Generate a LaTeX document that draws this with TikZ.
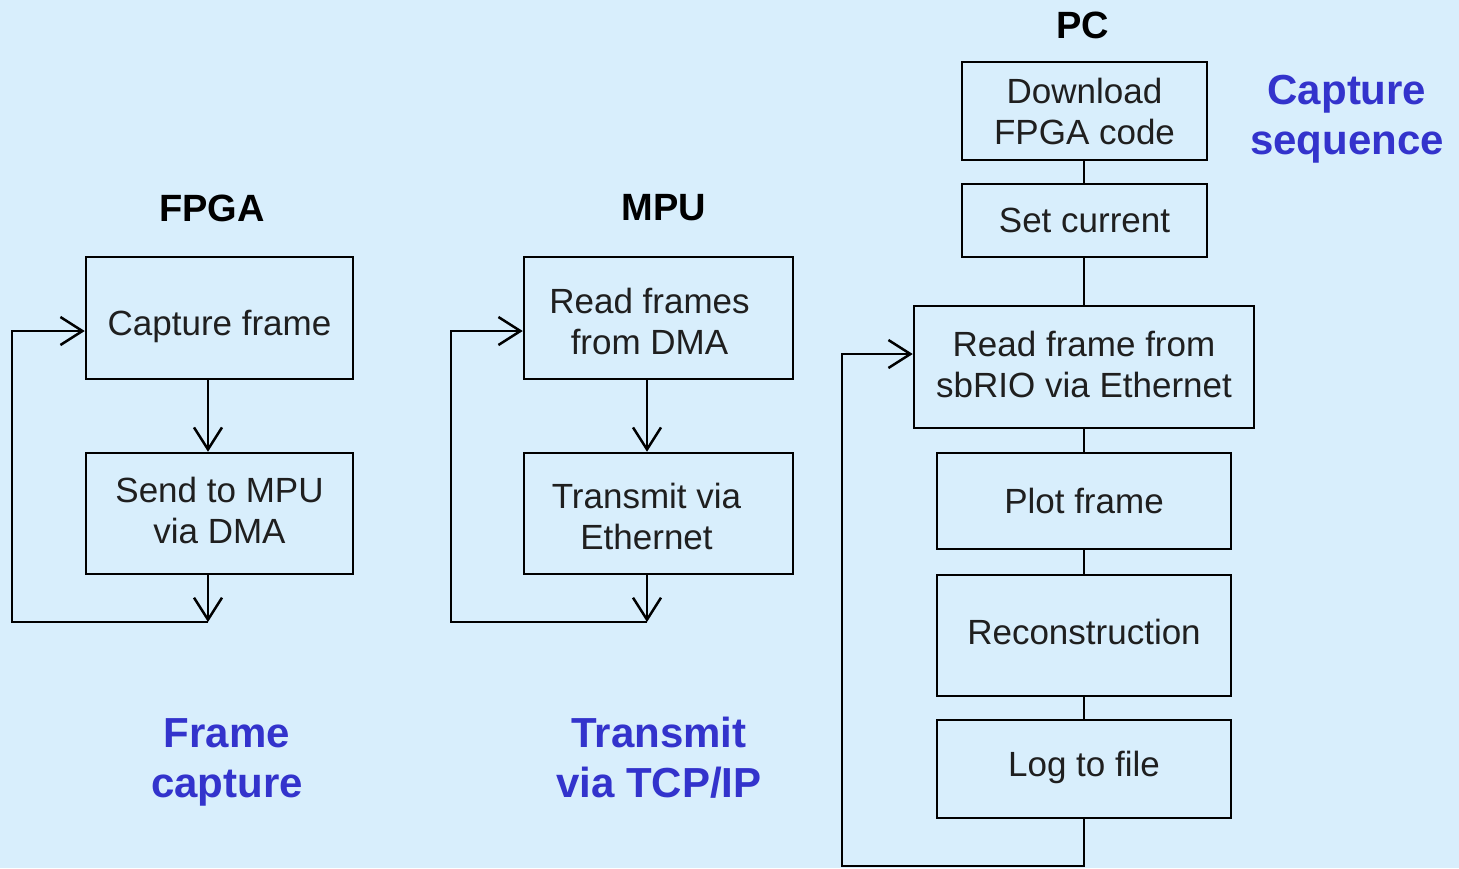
\documentclass[tikz,border=0pt]{standalone}
\usepackage{fontspec}
\setmainfont{Liberation Sans}
\usetikzlibrary{arrows.meta}
\definecolor{bgc}{HTML}{D8EEFC}
\definecolor{bluet}{HTML}{3333CC}
\begin{document}
\begin{tikzpicture}[x=1pt,y=-1pt,
  box/.style={draw=black,line width=2.5pt,rectangle,inner sep=0pt},
  txt/.style={inner sep=0pt,align=center,font=\fontsize{35}{41}\selectfont,text=black!88},
  head/.style={font=\fontsize{38}{44}\selectfont\bfseries,text=black},
  note/.style={font=\fontsize{42}{50}\selectfont\bfseries,text=bluet,align=center},
  wire/.style={line width=2.5pt},
  barb/.style={wire,-{Straight Barb[length=22pt,width=28pt]}}]
\fill[bgc] (0,0) rectangle (1459,868);
\useasboundingbox (0,0) rectangle (1459,868);
% headers
\node[head] (hf) at (212,208) {FPGA};
\node[head] (hm) at (664,208) {MPU};
\node[head] (hp) at (1083,25) {PC};
% FPGA column
\node[box,minimum width=267pt,minimum height=122pt,
  label={[txt,yshift=-8pt]center:Capture frame}] (cap) at (219.5,318) {};
\node[box,minimum width=267pt,minimum height=121pt,
  label={[txt,yshift=3pt]center:Send to MPU\\via DMA}] (send) at (219.5,513.5) {};
\coordinate (f1) at (208,622);
\coordinate (f2) at (12,622);
\coordinate (f3) at (12,331);
\draw[barb] (cap.south -| f1) -- (send.north -| f1);
\draw[barb] (send.south -| f1) -- (f1);
\draw[barb] (f1) -- (f2) -- (f3) -- (cap.west |- f3);
% MPU column
\node[box,minimum width=269pt,minimum height=122pt,
  label={[txt,yshift=-3pt,xshift=-9pt]center:Read frames\\from DMA}] (read) at (658.5,318) {};
\node[box,minimum width=269pt,minimum height=121pt,
  label={[txt,yshift=-3pt,xshift=-12pt]center:Transmit via\\Ethernet}] (trans) at (658.5,513.5) {};
\coordinate (m1) at (647,622);
\coordinate (m2) at (451,622);
\coordinate (m3) at (451,331);
\draw[barb] (read.south -| m1) -- (trans.north -| m1);
\draw[barb] (trans.south -| m1) -- (m1);
\draw[barb] (m1) -- (m2) -- (m3) -- (read.west |- m3);
% PC column
\node[box,minimum width=245pt,minimum height=98pt,
  label={[txt]center:Download\\FPGA code}] (dl) at (1084.5,111) {};
\node[box,minimum width=245pt,minimum height=73pt,
  label={[txt]center:Set current}] (set) at (1084.5,220.5) {};
\node[box,minimum width=340pt,minimum height=122pt,
  label={[txt,yshift=3pt]center:Read frame from\\sbRIO via Ethernet}] (rf) at (1084,367) {};
\node[box,minimum width=294pt,minimum height=96pt,
  label={[txt]center:Plot frame}] (plot) at (1084,501) {};
\node[box,minimum width=294pt,minimum height=121pt,
  label={[txt,yshift=4pt]center:Reconstruction}] (rec) at (1084,635.5) {};
\node[box,minimum width=294pt,minimum height=98pt,
  label={[txt,yshift=2pt]center:Log to file}] (log) at (1084,769) {};
\coordinate (p0) at (1084,0);
\coordinate (p1) at (1084,866);
\coordinate (p2) at (842,866);
\coordinate (p3) at (842,354);
\draw[wire] (dl.south -| p0) -- (set.north -| p0);
\draw[wire] (set.south -| p0) -- (rf.north -| p0);
\draw[wire] (rf.south -| p0) -- (plot.north -| p0);
\draw[wire] (plot.south -| p0) -- (rec.north -| p0);
\draw[wire] (rec.south -| p0) -- (log.north -| p0);
\draw[barb] (log.south -| p0) -- (p1) -- (p2) -- (p3) -- (rf.west |- p3);
% notes
\node[note] (n1) at (227,762) {Frame\\capture};
\node[note] (n2) at (659,758) {Transmit\\via TCP/IP};
\node[note] (n3) at (1347,119) {Capture\\sequence};
\end{tikzpicture}
\end{document}
